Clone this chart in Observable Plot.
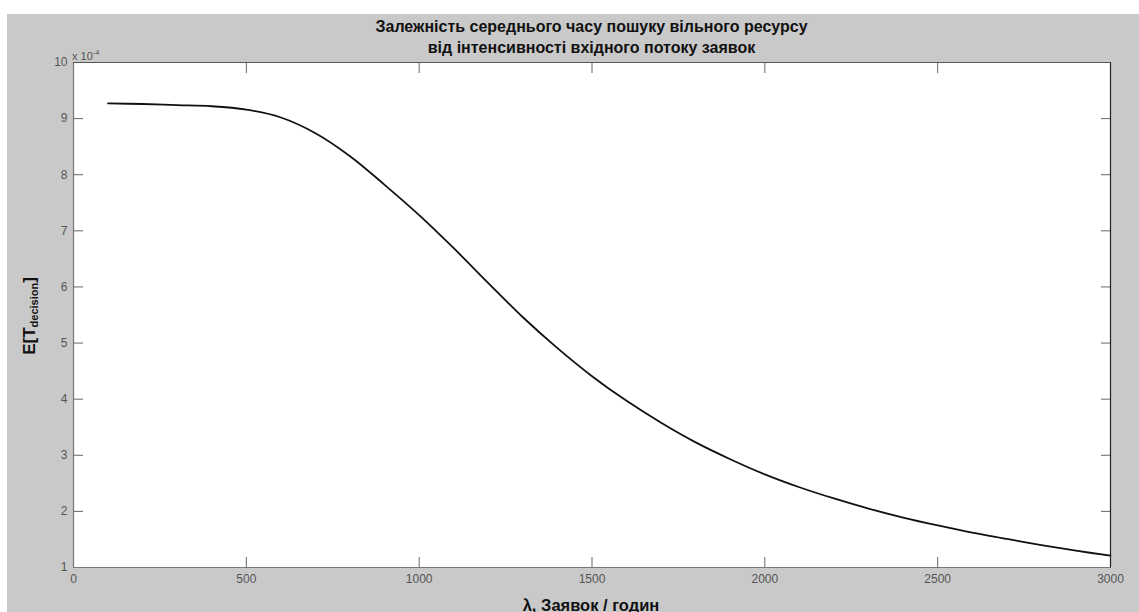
<!DOCTYPE html>
<html>
<head>
<meta charset="utf-8">
<script src="https://cdn.jsdelivr.net/npm/d3@7"></script>
<script src="https://cdn.jsdelivr.net/npm/@observablehq/plot@0.6"></script>
<style>
  html, body { margin: 0; padding: 0; background: #ffffff; width: 1139px; height: 612px; overflow: hidden; }
  #fig { position: absolute; left: 7px; top: 14px; width: 1132px; height: 598px; background: #c9c9c9; }
  #chart { position: absolute; left: 0; top: 0; }
  .txt { position: absolute; font-family: "Liberation Sans", Arial, sans-serif; color: #111; white-space: nowrap; }
  #title { left: 66px; top: 1.5px; width: 1037px; text-align: center; font-weight: bold; font-size: 16px; line-height: 21px; }
  #xlabel { left: 584px; top: 591px; transform: translate(-50%, -50%); font-weight: bold; font-size: 16.5px; }
  #ylabel { left: 23px; top: 302px; transform: translate(-50%, -50%) rotate(-90deg); font-weight: bold; font-size: 17px; }
  #ylabel sub { font-size: 11px; vertical-align: -3px; }
  #exp { left: 65px; top: 34px; font-size: 11px; color: #555; }
  #exp sup { font-size: 7.5px; vertical-align: 5px; }
</style>
</head>
<body>
<div id="fig">
  <div id="chart"></div>
  <div id="title" class="txt">Залежність середнього часу пошуку вільного ресурсу<br>від інтенсивності вхідного потоку заявок</div>
  <div id="exp" class="txt">x 10<sup>-4</sup></div>
  <div id="ylabel" class="txt">E[T<sub>decision</sub>]</div>
  <div id="xlabel" class="txt">λ, Заявок / годин</div>
</div>
<script>
// Data
const lambda = [100, 200, 300, 400, 500, 600, 700, 800, 900, 1000,
                1100, 1200, 1300, 1400, 1500, 1600, 1700, 1800, 1900, 2000,
                2100, 2200, 2300, 2400, 2500, 2600, 2700, 2800, 2900, 3000];
const eTdecision = [9.27e-4, 9.26e-4, 9.24e-4, 9.22e-4, 9.16e-4, 9.02e-4, 8.74e-4, 8.33e-4, 7.82e-4, 7.28e-4,
                    6.69e-4, 6.07e-4, 5.46e-4, 4.91e-4, 4.41e-4, 3.97e-4, 3.58e-4, 3.23e-4, 2.93e-4, 2.66e-4,
                    2.43e-4, 2.23e-4, 2.05e-4, 1.89e-4, 1.75e-4, 1.62e-4, 1.51e-4, 1.40e-4, 1.30e-4, 1.21e-4];
const xTicks = [0, 500, 1000, 1500, 2000, 2500, 3000];
const yTicks = [1e-4, 2e-4, 3e-4, 4e-4, 5e-4, 6e-4, 7e-4, 8e-4, 9e-4, 10e-4];
const yTickLabels = ["1", "2", "3", "4", "5", "6", "7", "8", "9", "10"];

const data = lambda.map((l, i) => ({lambda: l, t: eTdecision[i]}));

const chart = Plot.plot({
  width: 1132,
  height: 598,
  marginLeft: 66,
  marginRight: 29,
  marginTop: 48,
  marginBottom: 45,
  style: {background: "transparent", fontFamily: "Liberation Sans, Arial, sans-serif"},
  x: {domain: [0, 3000]},
  y: {domain: [1e-4, 10e-4]},
  marks: [
    Plot.frame({fill: "white", stroke: null}),
    Plot.axisX(xTicks, {anchor: "bottom", tickSize: 0, tickPadding: 7, fontSize: 12, color: "#555", label: null,
                        tickFormat: (d) => String(d)}),
    Plot.axisX(xTicks, {anchor: "bottom", tickSize: -10, text: null, color: "#666", label: null}),
    Plot.axisX(xTicks, {anchor: "top", tickSize: -10, text: null, color: "#666", label: null}),
    Plot.axisY(yTicks, {anchor: "left", tickSize: 0, tickPadding: 6, fontSize: 12, color: "#555", label: null,
                        tickFormat: (d, i) => yTickLabels[i]}),
    Plot.axisY(yTicks, {anchor: "left", tickSize: -10, text: null, color: "#666", label: null}),
    Plot.axisY(yTicks, {anchor: "right", tickSize: -10, text: null, color: "#666", label: null}),
    Plot.line(data, {x: "lambda", y: "t", stroke: "#111", strokeWidth: 1.8, curve: "catmull-rom"}),
    Plot.ruleX([0], {stroke: "#777", strokeWidth: 1.2}),
    Plot.ruleY([1e-4], {stroke: "#777", strokeWidth: 1.2}),
    Plot.ruleX([3000], {stroke: "#222", strokeWidth: 1.2}),
    Plot.ruleY([10e-4], {stroke: "#555", strokeWidth: 1.2})
  ]
});
document.getElementById("chart").appendChild(chart);
</script>
</body>
</html>
